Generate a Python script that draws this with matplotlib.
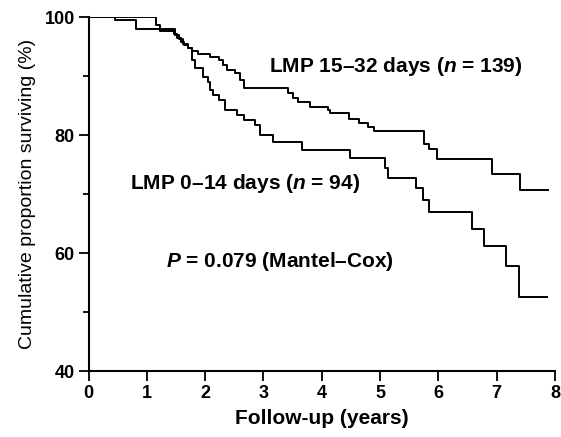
import matplotlib
matplotlib.use("Agg")
import matplotlib.pyplot as plt
from matplotlib.ticker import MultipleLocator

# Kaplan-Meier steps (years, % surviving)
t_late = [0, 1.15, 1.22, 1.46, 1.52, 1.58, 1.64, 1.71, 1.78, 1.88, 2.08, 2.23,
          2.30, 2.37, 2.51, 2.60, 2.66, 3.42, 3.50, 3.60, 3.80, 4.11, 4.14,
          4.46, 4.63, 4.80, 4.89, 5.76, 5.83, 5.98, 6.92, 7.40, 7.88]
s_late = [100, 98.6, 97.7, 97.1, 96.4, 95.8, 95.2, 94.7, 94.2, 93.8, 93.3, 92.7,
          91.8, 91.0, 90.5, 89.3, 87.9, 87.1, 86.3, 85.6, 84.8, 84.2, 83.7,
          82.8, 82.0, 81.4, 80.6, 78.5, 77.7, 75.9, 73.4, 70.7, 70.7]

t_early = [0, 0.45, 0.82, 1.48, 1.55, 1.62, 1.71, 1.77, 1.83, 1.97, 2.05, 2.08,
           2.14, 2.23, 2.34, 2.54, 2.66, 2.86, 2.94, 3.16, 3.66, 4.49, 5.09,
           5.14, 5.62, 5.73, 5.84, 6.57, 6.78, 7.16, 7.39, 7.86]
s_early = [100, 99.5, 97.9, 97.0, 96.2, 95.4, 94.7, 92.7, 91.3, 89.9, 89.0, 87.6,
           86.8, 85.9, 84.2, 83.4, 82.5, 81.7, 80.0, 78.8, 77.5, 76.1, 74.4,
           72.8, 71.0, 69.0, 67.0, 64.1, 61.2, 57.8, 52.6, 52.6]

label_late = r"LMP 15–32 days ($n$ = 139)"
label_early = r"LMP 0–14 days ($n$ = 94)"
p_text = r"$P$ = 0.079 (Mantel–Cox)"

plt.rcParams['font.family'] = ['Liberation Sans', 'DejaVu Sans']
plt.rcParams['mathtext.fontset'] = 'custom'
plt.rcParams['mathtext.it'] = 'Liberation Sans:italic:bold'
plt.rcParams['mathtext.rm'] = 'Liberation Sans:bold'

fig = plt.figure(figsize=(5.61, 4.37), dpi=100)
ax = fig.add_axes([0.1578, 0.151, 0.8316, 0.810])

ax.step(t_late, s_late, where='post', color='black', lw=1.4)
ax.step(t_early, s_early, where='post', color='black', lw=1.4)

ax.set_xlim(0, 8)
ax.set_ylim(40, 100)
ax.spines['top'].set_visible(False)
ax.spines['right'].set_visible(False)
for sp in ('left', 'bottom'):
    ax.spines[sp].set_linewidth(1.5)

ax.xaxis.set_major_locator(MultipleLocator(1))
ax.yaxis.set_major_locator(MultipleLocator(20))
ax.yaxis.set_minor_locator(MultipleLocator(10))
ax.tick_params(which='major', length=7, width=1.3, labelsize=13, pad=3)
ax.tick_params(which='minor', length=4, width=1.3)
for lab in ax.get_xticklabels() + ax.get_yticklabels():
    lab.set_fontweight('bold')

ax.set_xlabel("Follow-up (years)", fontsize=15, fontweight='bold', labelpad=5)
ax.set_ylabel("Cumulative proportion surviving (%)", fontsize=14, labelpad=6)

ax.text(3.09, 91.6, label_late, fontsize=15, fontweight='bold', va='center')
ax.text(0.71, 71.7, label_early, fontsize=15, fontweight='bold', va='center')
ax.text(1.33, 58.5, p_text, fontsize=15, fontweight='bold', va='center')

fig.savefig("out.png", dpi=100)
